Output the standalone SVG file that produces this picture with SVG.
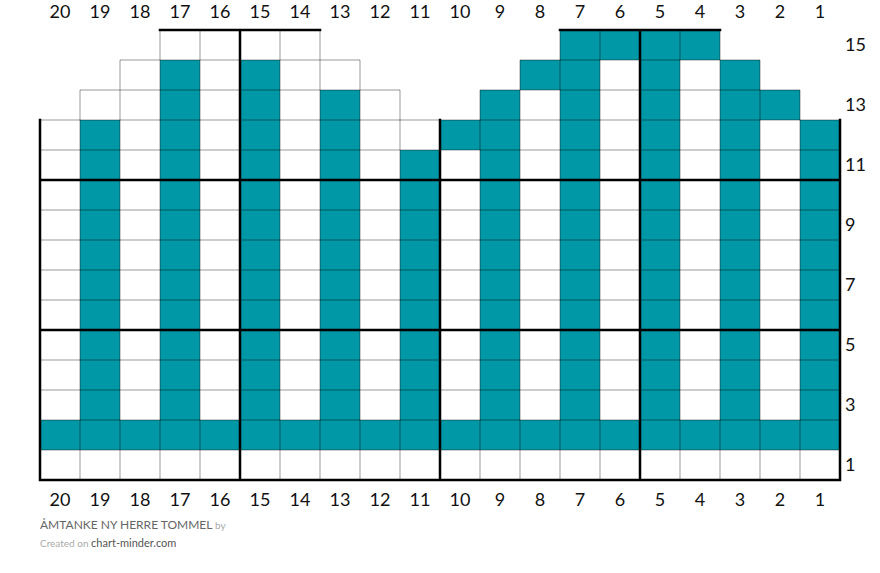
<svg xmlns="http://www.w3.org/2000/svg" width="880" height="573" viewBox="0 0 880 573">
<style>
.w{fill:#ffffff}
.t{fill:#0097a6}
.g{stroke:#000;stroke-opacity:0.4;stroke-width:1;fill:none}
.k{stroke:#000;stroke-width:2.5;fill:none;stroke-linecap:square}
.n{font-family:Lato,"Noto Sans",sans-serif;font-size:18px;fill:#111;text-anchor:middle}
.r{font-family:Lato,"Noto Sans",sans-serif;font-size:18px;fill:#111}
.f1{font-family:Lato,"Noto Sans",sans-serif;font-size:12px;fill:#666}
.f2{font-family:Lato,"Noto Sans",sans-serif;font-size:10px;fill:#aaa}
.f3{font-family:Lato,"Noto Sans",sans-serif;font-size:11px;fill:#555}
</style>
<rect width="880" height="573" fill="#ffffff"/>
<g id="cells">
<rect class="w" x="40" y="120" width="40" height="360"/>
<rect class="w" x="80" y="90" width="40" height="390"/>
<rect class="w" x="120" y="60" width="40" height="420"/>
<rect class="w" x="160" y="30" width="160" height="450"/>
<rect class="w" x="320" y="60" width="40" height="420"/>
<rect class="w" x="360" y="90" width="40" height="390"/>
<rect class="w" x="400" y="120" width="80" height="360"/>
<rect class="w" x="480" y="90" width="40" height="390"/>
<rect class="w" x="520" y="60" width="40" height="420"/>
<rect class="w" x="560" y="30" width="160" height="450"/>
<rect class="w" x="720" y="60" width="40" height="420"/>
<rect class="w" x="760" y="90" width="40" height="390"/>
<rect class="w" x="800" y="120" width="40" height="360"/>
<rect class="t" x="40" y="420" width="800" height="30"/>
<rect class="t" x="80" y="120" width="40" height="300"/>
<rect class="t" x="160" y="60" width="40" height="360"/>
<rect class="t" x="240" y="60" width="40" height="360"/>
<rect class="t" x="320" y="90" width="40" height="330"/>
<rect class="t" x="400" y="150" width="40" height="270"/>
<rect class="t" x="440" y="120" width="40" height="30"/>
<rect class="t" x="480" y="90" width="40" height="330"/>
<rect class="t" x="520" y="60" width="40" height="30"/>
<rect class="t" x="560" y="30" width="40" height="390"/>
<rect class="t" x="600" y="30" width="40" height="30"/>
<rect class="t" x="640" y="30" width="40" height="390"/>
<rect class="t" x="680" y="30" width="40" height="30"/>
<rect class="t" x="720" y="60" width="40" height="360"/>
<rect class="t" x="760" y="90" width="40" height="30"/>
<rect class="t" x="800" y="120" width="40" height="300"/>
</g>
<g id="grid">
<path class="g" d="M40 450H840M40 420H840M40 390H840M40 360H840M40 330H840M40 300H840M40 270H840M40 240H840M40 210H840M40 180H840M40 150H840M40 120H840M80 90H400M480 90H800M120 60H360M520 60H760M160 30H320M560 30H720"/>
<path class="g" d="M40 480V120M80 480V90M120 480V60M160 480V30M200 480V30M240 480V30M280 480V30M320 480V30M360 480V60M400 480V90M440 480V120M480 480V90M520 480V60M560 480V30M600 480V30M640 480V30M680 480V30M720 480V30M760 480V60M800 480V90M840 480V120"/>
<path class="k" d="M40 480H840M40 330H840M40 180H840M160 30H320M560 30H720M40 480V120M240 480V30M440 480V120M640 480V30M840 480V120"/>
</g>
<g id="top-labels">
<text class="n" x="60" y="18">20</text><text class="n" x="100" y="18">19</text><text class="n" x="140" y="18">18</text><text class="n" x="180" y="18">17</text><text class="n" x="220" y="18">16</text><text class="n" x="260" y="18">15</text><text class="n" x="300" y="18">14</text><text class="n" x="340" y="18">13</text><text class="n" x="380" y="18">12</text><text class="n" x="420" y="18">11</text><text class="n" x="460" y="18">10</text><text class="n" x="500" y="18">9</text><text class="n" x="540" y="18">8</text><text class="n" x="580" y="18">7</text><text class="n" x="620" y="18">6</text><text class="n" x="660" y="18">5</text><text class="n" x="700" y="18">4</text><text class="n" x="740" y="18">3</text><text class="n" x="780" y="18">2</text><text class="n" x="820" y="18">1</text>
</g>
<g id="bottom-labels">
<text class="n" x="60" y="506">20</text><text class="n" x="100" y="506">19</text><text class="n" x="140" y="506">18</text><text class="n" x="180" y="506">17</text><text class="n" x="220" y="506">16</text><text class="n" x="260" y="506">15</text><text class="n" x="300" y="506">14</text><text class="n" x="340" y="506">13</text><text class="n" x="380" y="506">12</text><text class="n" x="420" y="506">11</text><text class="n" x="460" y="506">10</text><text class="n" x="500" y="506">9</text><text class="n" x="540" y="506">8</text><text class="n" x="580" y="506">7</text><text class="n" x="620" y="506">6</text><text class="n" x="660" y="506">5</text><text class="n" x="700" y="506">4</text><text class="n" x="740" y="506">3</text><text class="n" x="780" y="506">2</text><text class="n" x="820" y="506">1</text>
</g>
<g id="row-labels">
<text class="r" x="845" y="51">15</text><text class="r" x="845" y="111">13</text><text class="r" x="845" y="171">11</text><text class="r" x="845" y="231">9</text><text class="r" x="845" y="291">7</text><text class="r" x="845" y="351">5</text><text class="r" x="845" y="411">3</text><text class="r" x="845" y="471">1</text>
</g>
<g id="footer">
<text x="40" y="529"><tspan class="f1">ÅMTANKE NY HERRE TOMMEL</tspan><tspan class="f2" font-size="12"> by</tspan></text>
<text x="40" y="547"><tspan class="f2">Created on </tspan><tspan class="f3">chart-minder.com</tspan></text>
</g>
</svg>
